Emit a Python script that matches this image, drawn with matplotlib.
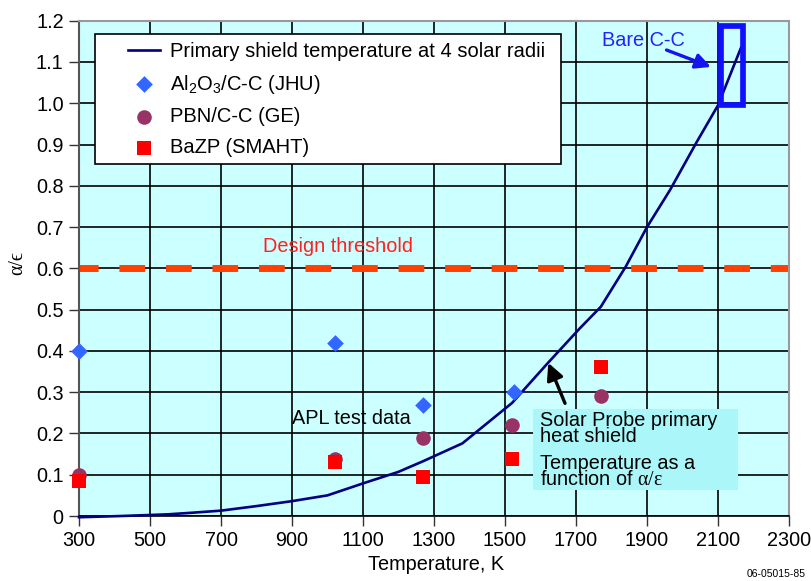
import matplotlib
matplotlib.use("Agg")
import matplotlib.pyplot as plt
from matplotlib.patches import Rectangle

plt.rcParams['font.family'] = ['Liberation Sans', 'DejaVu Sans']
plt.rcParams['mathtext.fontset'] = 'custom'
plt.rcParams['mathtext.rm'] = 'Liberation Serif'
plt.rcParams['mathtext.it'] = 'Liberation Serif:italic'
plt.rcParams['mathtext.default'] = 'regular'

# Primary shield temperature at 4 solar radii vs. alpha/epsilon
curve_temp = [300, 420, 550, 620, 700, 800, 900, 1000, 1100, 1200, 1270, 1380,
              1520, 1620, 1710, 1770, 1840, 1900, 1965, 2040, 2100, 2165]
curve_ae = [-0.003, 0.0, 0.004, 0.008, 0.013, 0.024, 0.036, 0.05, 0.079, 0.107,
            0.133, 0.176, 0.274, 0.37, 0.454, 0.507, 0.604, 0.70, 0.79, 0.906,
            0.995, 1.135]

# APL test data
al2o3_temp = [300, 1020, 1270, 1525]
al2o3_ae = [0.40, 0.42, 0.27, 0.30]
pbn_temp = [300, 1020, 1270, 1520, 1770]
pbn_ae = [0.10, 0.138, 0.19, 0.22, 0.29]
bazp_temp = [300, 1020, 1270, 1520, 1770]
bazp_ae = [0.085, 0.132, 0.095, 0.138, 0.362]

design_threshold = 0.6

x_ticks = list(range(300, 2301, 200))
y_ticks = [0, 0.1, 0.2, 0.3, 0.4, 0.5, 0.6, 0.7, 0.8, 0.9, 1.0, 1.1, 1.2]
y_tick_labels = ['0', '0.1', '0.2', '0.3', '0.4', '0.5', '0.6', '0.7', '0.8',
                 '0.9', '1.0', '1.1', '1.2']

W, H = 811, 581
fig = plt.figure(figsize=(W / 100, H / 100), dpi=100)
ax = fig.add_axes([79 / W, 1 - 516 / H, (789 - 79) / W, (516 - 20.7) / H])
ax.set_facecolor('#CCFFFF')
ax.set_xlim(300, 2300)
ax.set_ylim(0, 1.2)
ax.set_xticks(x_ticks)
ax.set_yticks(y_ticks)
ax.set_yticklabels(y_tick_labels)
ax.tick_params(axis='both', direction='out', length=7, width=1, color='#333333',
               labelsize=14.3)
ax.tick_params(axis='x', pad=4)
ax.tick_params(axis='y', pad=4)
ax.grid(True, color='black', linewidth=1.2)
ax.set_axisbelow(True)
for side in ('top', 'right'):
    ax.spines[side].set_color('#999999')
    ax.spines[side].set_linewidth(1.5)
ax.spines['left'].set_color('#555555')
ax.spines['left'].set_linewidth(1.5)
ax.spines['bottom'].set_color('black')
ax.spines['bottom'].set_linewidth(1.2)

# design threshold
thr = ax.axhline(design_threshold, color='#FF4000', linewidth=5, clip_on=False,
                 solid_capstyle='butt', dash_capstyle='butt', zorder=2.5)
thr.set_linestyle((0.95, (3.7, 3.0)))
ax.text(819, 0.652, 'Design threshold', color='#FF2020', fontsize=14.3,
        va='center', ha='left')

# curve and test points
line, = ax.plot(curve_temp, curve_ae, color='#000080', linewidth=1.9, zorder=3,
                clip_on=False,
                label='Primary shield temperature at 4 solar radii')
d = ax.scatter(al2o3_temp, al2o3_ae, marker='D', s=8.5 ** 2, color='#3366FF',
               zorder=4, label='Al$_2$O$_3$/C-C (JHU)', linewidths=0,
               clip_on=False)
c = ax.scatter(pbn_temp, pbn_ae, marker='o', s=10.5 ** 2, color='#993366',
               zorder=4, label='PBN/C-C (GE)', linewidths=0, clip_on=False)
sq = ax.scatter(bazp_temp, bazp_ae, marker='s', s=10.2 ** 2, color='#FF0000',
                zorder=4, label='BaZP (SMAHT)', linewidths=0, clip_on=False)

# legend with a separate white frame
frame = Rectangle((95 / W, 1 - 164.3 / H), (560.5 - 95) / W, (164.3 - 34.3) / H,
                  transform=fig.transFigure, facecolor='white',
                  edgecolor='black', linewidth=1.2, zorder=6, clip_on=False)
ax.add_patch(frame)
leg = ax.legend(handles=[line, d, c, sq], loc='upper left',
                bbox_to_anchor=(127.7 / W, 1 - 42 / H),
                bbox_transform=fig.transFigure, frameon=False, fontsize=14.5,
                handlelength=1.58, handletextpad=0.53, borderpad=0,
                borderaxespad=0, labelspacing=0.58, scatterpoints=1)
leg.set_zorder(7)

# Bare C-C callout
ax.text(1773, 1.153, 'Bare C-C', color='#2222FF', fontsize=14.3, va='center',
        ha='left')
ax.annotate('', xy=(2080, 1.088), xytext=(1955, 1.129),
            arrowprops=dict(arrowstyle='-|>,head_length=0.9,head_width=0.45',
                            color='#1414F0', linewidth=2.4,
                            shrinkA=0, shrinkB=0))
ax.add_patch(Rectangle((2108.5, 0.996), 2170 - 2108.5, 1.188 - 0.996,
                       facecolor='none', edgecolor='#1010FF', linewidth=4.1,
                       zorder=5, clip_on=False))

# APL test data label
ax.text(899, 0.237, 'APL test data', color='black', fontsize=14.3,
        va='center', ha='left')

# Solar Probe callout box
ax.add_patch(Rectangle((1578, 0.063), 2157 - 1578, 0.259 - 0.063,
                       facecolor='#AAF6F8', edgecolor='none', zorder=4.5))
ax.text(1598, 0.2113, 'Solar Probe primary\nheat shield', fontsize=14.3,
        va='center', ha='left', zorder=5, linespacing=0.78)
ax.text(1598, 0.1074, 'Temperature as a\nfunction of $\\mathrm{\\alpha/\\epsilon}$',
        fontsize=14.3, va='center', ha='left', zorder=5, linespacing=0.78)
ax.annotate('', xy=(1622, 0.371), xytext=(1669, 0.273),
            arrowprops=dict(arrowstyle='-|>,head_length=1.0,head_width=0.5',
                            color='black', linewidth=2.4,
                            shrinkA=0, shrinkB=0), zorder=5)

# axis labels
fig.text(436 / W, 1 - 565 / H, 'Temperature, K', fontsize=14.3, ha='center',
         va='center')
fig.text(18 / W, 1 - 263 / H, 'α/ϵ', fontsize=14.3, ha='center', va='center',
         rotation=90, family=['Liberation Serif', 'DejaVu Serif'])
fig.text(806 / W, 1 - 574 / H, '06-05015-85', fontsize=7.5, ha='right',
         va='center')

fig.savefig('out.png', dpi=100)
